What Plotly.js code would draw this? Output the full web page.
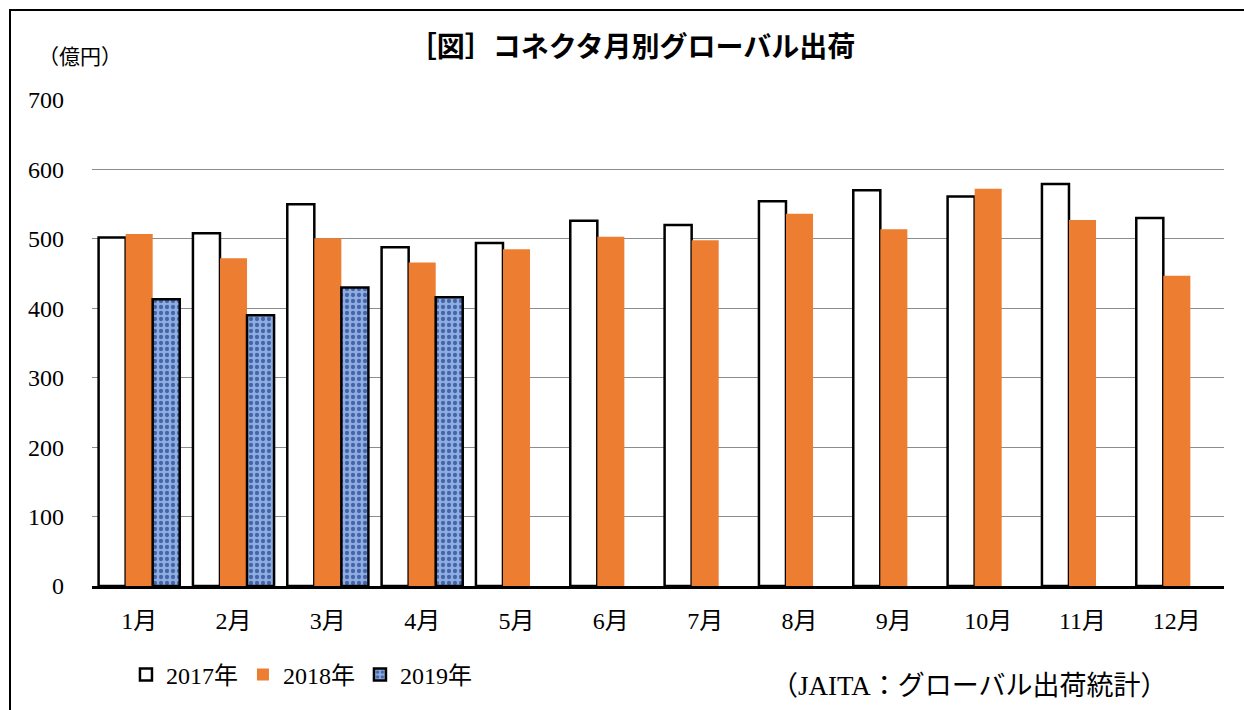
<!DOCTYPE html>
<html>
<head>
<meta charset="utf-8">
<script src="https://cdn.plot.ly/plotly-3.0.1.min.js"></script>
<style>
html,body{margin:0;padding:0;background:#fff;}
#frame{position:absolute;left:9px;top:9px;width:1250px;height:720px;border-left:2px solid #000;border-top:2px solid #000;}
#chart{position:absolute;left:0;top:0;width:1244px;height:710px;}
</style>
</head>
<body>
<div id="chart"></div>
<div id="frame"></div>
<script>
const months = ['1月','2月','3月','4月','5月','6月','7月','8月','9月','10月','11月','12月'];
const v2017 = [502, 508, 550, 488, 494, 526, 520, 554, 570, 561, 579, 530];
const v2018 = [507, 472, 501, 466, 485, 503, 498, 536, 514, 572, 527, 447];
const v2019 = [413, 390, 430, 416, null, null, null, null, null, null, null, null];
const seriesNames = ['2017年','2018年','2019年'];
const yTicks = [0,100,200,300,400,500,600,700];

const serif = "'Liberation Serif', 'Times New Roman', 'Noto Sans CJK JP', serif";

const traces = [
  {type:'bar', name:seriesNames[0], x:months, y:v2017,
   marker:{color:'#ffffff', line:{color:'#000000', width:2.5}}},
  {type:'bar', name:seriesNames[1], x:months, y:v2018,
   marker:{color:'#ED7D31', line:{color:'#ED7D31', width:0}}},
  {type:'bar', name:seriesNames[2], x:months, y:v2019,
   marker:{color:'#7c9dd9', line:{color:'#000000', width:2.5},
     pattern:{shape:'.', fgcolor:'#4466a8', bgcolor:'#8fadE3', size:6, solidity:0.4}}}
];

const layout = {
  width:1244, height:710,
  margin:{l:92, r:20, t:100, b:124},
  paper_bgcolor:'rgba(0,0,0,0)', plot_bgcolor:'#ffffff',
  barmode:'group', bargap:0.14, bargroupgap:0,
  showlegend:true,
  legend:{orientation:'h', x:0.03, xanchor:'left', y:-0.183, yanchor:'middle',
    font:{family:serif, size:24, color:'#000'}, itemwidth:30, tracegroupgap:0,
    bgcolor:'rgba(0,0,0,0)', traceorder:'normal'},
  title:{text:'［図］コネクタ月別グローバル出荷', x:0.508, xanchor:'center', y:0.934, yanchor:'middle',
    font:{family:'Noto Sans CJK JP', size:28, color:'#000', weight:'bold'}},
  xaxis:{type:'category', tickfont:{family:serif, size:24, color:'#000'},
    showline:true, linecolor:'#000', linewidth:3, ticks:'', showgrid:false, zeroline:false,
    ticklabelstandoff:11, fixedrange:true},
  yaxis:{range:[0,700], tickvals:yTicks, ticktext:yTicks.map(String),
    tickfont:{family:serif, size:24, color:'#000'}, ticks:'', ticklabelstandoff:27,
    showgrid:true, gridcolor:'#8c8c8c', gridwidth:1.2, showline:false, zeroline:false,
    fixedrange:true},
  annotations:[
    {text:'（億円）', xref:'paper', yref:'paper', x:-0.011, y:1.088, xanchor:'center', yanchor:'middle',
     showarrow:false, font:{family:serif, size:21, color:'#000'}},
    {text:'（JAITA：グローバル出荷統計）', xref:'paper', yref:'paper', x:0.952, y:-0.205, xanchor:'right', yanchor:'middle',
     showarrow:false, font:{family:serif, size:27, color:'#000'}}
  ]
};

Plotly.newPlot('chart', traces, layout, {displayModeBar:false, staticPlot:true});
</script>
</body>
</html>
